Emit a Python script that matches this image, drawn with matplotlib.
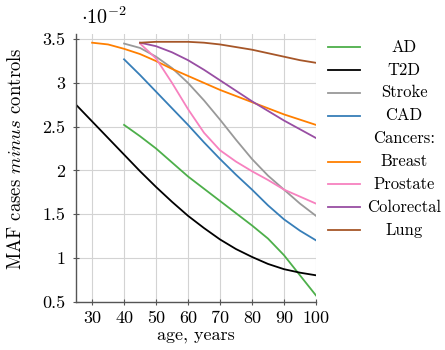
import matplotlib
matplotlib.use("Agg")
import matplotlib.pyplot as plt
from matplotlib.lines import Line2D

plt.rcParams['font.family'] = ['cmr10', 'DejaVu Serif']
plt.rcParams['mathtext.fontset'] = 'cm'
plt.rcParams['axes.unicode_minus'] = False
plt.rcParams['axes.formatter.use_mathtext'] = True

# MAF difference, in units of 1e-2
ages_25 = list(range(25, 101, 5))
ages_30 = list(range(30, 101, 5))
ages_40 = list(range(40, 101, 5))
ages_45 = list(range(45, 101, 5))

ad = [2.52, 2.39, 2.25, 2.09, 1.93, 1.79, 1.65, 1.51, 1.37, 1.22, 1.03, 0.80, 0.57]
t2d = [2.75, 2.56, 2.37, 2.18, 1.99, 1.81, 1.64, 1.48, 1.34, 1.21, 1.10, 1.01, 0.93, 0.87, 0.83, 0.80]
stroke = [3.45, 3.40, 3.30, 3.17, 3.00, 2.80, 2.58, 2.35, 2.13, 1.94, 1.78, 1.62, 1.48]
cad = [3.27, 3.09, 2.90, 2.71, 2.52, 2.32, 2.13, 1.95, 1.78, 1.60, 1.44, 1.31, 1.20]
breast = [3.46, 3.44, 3.39, 3.33, 3.25, 3.16, 3.08, 3.00, 2.92, 2.85, 2.78, 2.71, 2.64, 2.58, 2.52]
prostate = [3.45, 3.28, 3.00, 2.70, 2.43, 2.23, 2.10, 1.99, 1.89, 1.78, 1.70, 1.62]
colorectal = [3.46, 3.42, 3.35, 3.26, 3.15, 3.03, 2.91, 2.79, 2.68, 2.57, 2.47, 2.37]
lung = [3.46, 3.47, 3.47, 3.47, 3.46, 3.44, 3.41, 3.38, 3.34, 3.30, 3.26, 3.23]

series = [
    ("AD", ages_40, ad, "#4daf4a"),
    ("T2D", ages_25, t2d, "black"),
    ("Stroke", ages_40, stroke, "#999999"),
    ("CAD", ages_40, cad, "#377eb8"),
    ("Cancers:", None, None, None),
    ("Breast", ages_30, breast, "#ff7f00"),
    ("Prostate", ages_45, prostate, "#f781bf"),
    ("Colorectal", ages_45, colorectal, "#984ea3"),
    ("Lung", ages_45, lung, "#a65628"),
]

xticks = [30, 40, 50, 60, 70, 80, 90, 100]
yticks = [0.5, 1, 1.5, 2, 2.5, 3, 3.5]
ytick_labels = ["0.5", "1", "1.5", "2", "2.5", "3", "3.5"]

fig = plt.figure(figsize=(4.45, 3.5), dpi=100)
ax = fig.add_axes([0.171, 0.136, 0.539, 0.767])

for name, x, y, c in series:
    if x is not None:
        ax.plot(x, y, color=c, lw=1.3)

ax.set_xlim(25, 100)
ax.set_ylim(0.49, 3.56)
ax.set_xticks(xticks)
ax.set_xticklabels([str(t) for t in xticks])
ax.set_yticks(yticks)
ax.set_yticklabels(ytick_labels)
ax.grid(True, color="#d3d3d3", lw=0.8)
ax.set_axisbelow(True)
for s in ["top", "right"]:
    ax.spines[s].set_visible(False)
for s in ["left", "bottom"]:
    ax.spines[s].set_color("#555555")
    ax.spines[s].set_linewidth(1.0)
ax.tick_params(direction="inout", length=4, width=0.8, color="#555555",
               labelsize=13)
ax.tick_params(axis="x", pad=4)
ax.tick_params(axis="y", pad=6)

ax.set_xlabel("age, years", fontsize=13, labelpad=1)
ax.set_ylabel(r"MAF cases $\mathit{minus}$ controls", fontsize=13.5)
ax.yaxis.set_label_coords(-0.215, 0.537)
fig.text(0.183, 0.95, r"$\cdot 10^{-2}$", fontsize=14.5, ha="left", va="center")

# legend drawn by hand so text is centred like pgfplots
y0 = 1 - 47 / 350
dy = 22.9 / 350
for i, (name, x, y, c) in enumerate(series):
    yy = y0 - i * dy
    if c is not None:
        fig.add_artist(Line2D([328 / 445, 360 / 445], [yy, yy], color=c, lw=1.3,
                              transform=fig.transFigure))
    fig.text(404 / 445, yy, name, fontsize=12, ha="center", va="center")

fig.savefig("out.png", dpi=100)
